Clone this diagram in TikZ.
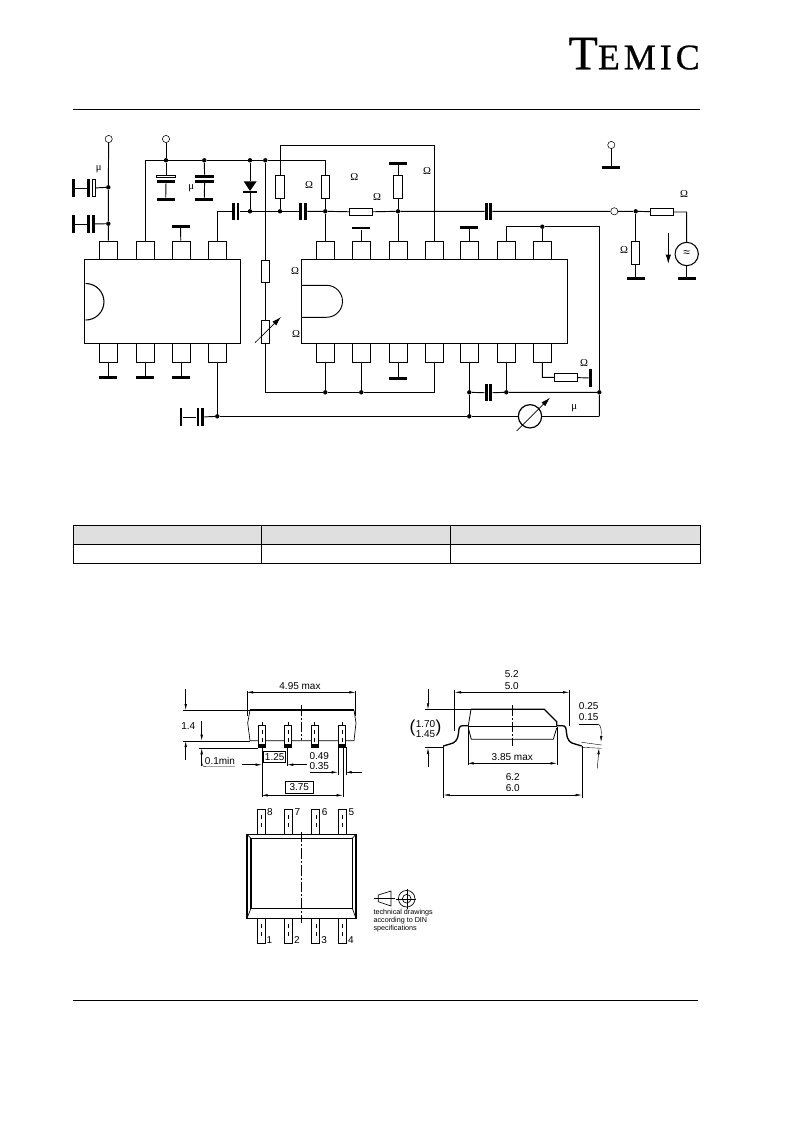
\documentclass[tikz,border=0pt]{standalone}
\usepackage{fontspec}
\setmainfont{Liberation Sans}
\newfontfamily\symfont{Liberation Serif}
\newfontfamily\logofont[LetterSpace=11,FakeBold=0.6]{Liberation Serif}
\usetikzlibrary{arrows.meta}
\tikzset{
	wire/.style={line width=.7pt},
	pinbox/.style={draw,line width=.7pt,inner sep=0,minimum width=13.5pt,minimum height=14pt},
	icbox/.style={draw,line width=.75pt,inner sep=0,anchor=north west},
	resv/.style={draw,line width=.7pt,inner sep=0,fill=white,minimum width=6.2pt,minimum height=17pt},
	resh/.style={draw,line width=.7pt,inner sep=0,fill=white,minimum width=17.5pt,minimum height=5.6pt},
	gndh/.style={fill=black,inner sep=0,minimum width=13.5pt,minimum height=2pt},
	gndv/.style={fill=black,inner sep=0,minimum width=2pt,minimum height=13.5pt},
	plateh/.style={fill=black,inner sep=0,minimum width=14pt,minimum height=2pt},
	platev/.style={fill=black,inner sep=0,minimum width=2pt,minimum height=13pt},
	dot/.style={circle,fill=black,inner sep=0,minimum size=3.3pt},
	term/.style={circle,draw,fill=white,line width=.4pt,inner sep=0,minimum size=5.4pt},
	roundel/.style={circle,draw,line width=.8pt,inner sep=0,minimum size=17.5pt},
	ohm/.style={inner sep=0,font=\symfont\fontsize{8}{8}\selectfont},
	dimtxt/.style={inner sep=0,font=\fontsize{7.5}{8}\selectfont},
	dimline/.style={line width=.35pt,{Latex[length=4.5pt,width=1.9pt]}-{Latex[length=4.5pt,width=1.9pt]}},
	dimend/.style={line width=.35pt,-{Latex[length=4.5pt,width=1.9pt]}},
	thinl/.style={line width=.3pt},
	tagbox/.style={draw,line width=.7pt,inner sep=0,minimum height=8.6pt,font=\fontsize{7.5}{8}\selectfont},
	bigarrow/.style={line width=.5pt,-{Latex[length=7pt,width=4pt]}},
	x=.75pt,y=-.75pt
}
\begin{document}
\begin{tikzpicture}
	\useasboundingbox (0,0) rectangle (793,1123);
	\node[anchor=base east,inner sep=0,font=\logofont] (logo) at (700,69.3) {\fontsize{36}{36}\selectfont T\fontsize{27}{27}\selectfont EMIC};
	\coordinate (headl) at (73,109.3);
	\coordinate (headr) at (700,109.3);
	\draw[line width=.7pt] (headl) -- (headr);
	\node[icbox,minimum width=117pt,minimum height=63pt] (icl) at (84.3,259.3) {};
	\node[icbox,minimum width=199pt,minimum height=63pt] (icr) at (301.3,259.3) {};
	\foreach \n/\x in {1/108.3,2/145.3,3/181,4/217.3} {
		\node[pinbox] (lt\n) at (\x,250.3) {};
		\node[pinbox] (lb\n) at (\x,352.8) {};
	}
	\foreach \n/\x in {1/325.3,2/361.3,3/398,4/434.3,5/469.3,6/506.3,7/542.3} {
		\node[pinbox] (rt\n) at (\x,250.3) {};
		\node[pinbox] (rb\n) at (\x,352.8) {};
	}
	\draw[line width=.8pt] (85.7,283.5) arc[start angle=90,end angle=-90,radius=13.7pt];
	\draw[wire] (301.3,285.3) -- (326.5,285.3) arc[start angle=90,end angle=-90,radius=12pt] -- (301.3,317.3);
	\node[term] (vs1) at (108.7,139) {};
	\node[term] (vs2) at (166,139) {};
	\node[term] (vs3) at (611.3,145) {};
	\node[term] (vs4) at (614.3,211.3) {};
	\foreach \n/\x/\y in {t1/108.3/187.3,t2/108.3/223.7,v1/166/160.3,v2/204.3/160.3,v3/250/160.3,v4/265.3/160.3,m1/250/211.3,m2/280/211.3,m3/325.3/211.3,m4/398/211.3,o1/635.7/211.3,c1/542.3/226.7,b1/325.3/392.3,b2/361.3/392.3,b3/469.3/392.3,b4/506.3/392.3,b5/599.3/392.3,l1/469.3/416.3,l2/217.3/416.3}
		\node[dot] (j\n) at (\x,\y) {};
	\node[gndv] (g1) at (73.3,188) {};
	\node[gndv] (g2) at (73.3,224) {};
	\node[gndv] (g3) at (181,417) {};
	\node[gndv] (g4) at (590.3,378) {};
	\foreach \n/\x/\y in {5/165.7/199.3,6/204.3/199.3,7/180.5/226.3,8/108.3/377.3,9/145.3/377.3,10/181/377.3,11/398/163.3,12/361.3/228,13/469.3/227.7,14/398/378.3,15/611.3/167.3,16/635.7/278.3,17/686.7/278.7}
		\node[gndh] (g\n) at (\x,\y) {};
	\node[platev] (ca1) at (88.2,188) {};
	\node[draw,fill=white,line width=.5pt,inner sep=0,minimum width=2pt,minimum height=13pt] (cb1) at (93.5,188) {};
	\node[platev] (ca2) at (88.5,224) {};
	\node[platev] (cb2) at (93.5,224) {};
	\node[draw,fill=white,line width=.5pt,inner sep=0,minimum width=14pt,minimum height=2pt] (ca3) at (166,176.4) {};
	\node[plateh] (cb3) at (166,181.8) {};
	\node[plateh] (ca4) at (204.6,176.3) {};
	\node[plateh] (cb4) at (204.6,181.3) {};
	\node[platev] (ca5) at (233.4,211.3) {};
	\node[platev] (cb5) at (237.9,211.3) {};
	\node[platev] (ca6) at (300.7,211.3) {};
	\node[platev] (cb6) at (305.7,211.3) {};
	\node[platev] (ca7) at (486.2,211.3) {};
	\node[platev] (cb7) at (490.8,211.3) {};
	\node[platev] (ca8) at (486.2,392.8) {};
	\node[platev] (cb8) at (490.8,392.8) {};
	\node[platev] (ca9) at (198,417) {};
	\node[platev] (cb9) at (202.7,417) {};
	\node[resv] (r1) at (280,187.3) {};
	\node[resv] (r2) at (325.3,187.3) {};
	\node[resv] (r3) at (398,187.3) {};
	\node[resh] (r4) at (361,212) {};
	\node[resh] (r5) at (662,212) {};
	\node[resv] (r6) at (635.7,252.8) {};
	\node[resv] (r7) at (265.3,271.3) {};
	\node[resv] (r8) at (265.3,332) {};
	\node[resh] (r9) at (566,377.3) {};
	\node[roundel,font=\fontsize{9}{9}\selectfont] (src) at (686.7,254) {≈};
	\node[roundel,line width=.9pt] (mtr) at (530,416.3) {};
	\coordinate (dtop) at (250,181.3);
	\coordinate (dbtm) at (250,193);
	\coordinate (topw) at (434.3,145);
	\fill (243.7,181.3) -- (256.7,181.3) -- (250,191) -- cycle;
	\fill (243,191.4) rectangle (257,193.2);
	\draw[wire] (vs1) -- (jt1) -- (jt2) -- (lt1);
	\draw[wire] (g1) -- (ca1);
	\draw[wire] (cb1) -- (jt1);
	\draw[wire] (g2) -- (ca2);
	\draw[wire] (cb2) -- (jt2);
	\draw[wire] (vs2) -- (jv1);
	\draw[wire] (lt2) |- (jv1) -- (jv2) -- (jv3) -- (jv4) -| (r2);
	\draw[wire] (jv1) -- (ca3);
	\draw[wire] (cb3) -- (g5);
	\draw[wire] (jv2) -- (ca4);
	\draw[wire] (cb4) -- (g6);
	\draw[wire] (jv3) -- (dtop);
	\draw[wire] (dbtm) -- (jm1);
	\draw[wire] (g7) -- (lt3);
	\draw[wire] (lt4) |- (ca5);
	\draw[wire] (cb5) -- (jm1) -- (jm2) -- (ca6);
	\draw[wire] (cb6) -- (jm3) -- (r4) -- (jm4) -- (ca7);
	\draw[wire] (cb7) -- (vs4) -- (jo1) -- (r5) -| (src);
	\draw[wire] (jo1) -- (r6) -- (g16);
	\draw[wire] (src) -- (g17);
	\draw[wire] (vs3) -- (g15);
	\draw[wire] (r1) -- (jm2);
	\draw[wire] (r1) |- (topw) -- (rt4);
	\draw[wire] (r2) -- (jm3) -- (rt1);
	\draw[wire] (g11) -- (r3) -- (jm4) -- (rt3);
	\draw[wire] (g12) -- (rt2);
	\draw[wire] (g13) -- (rt5);
	\draw[wire] (rt6) |- (jc1);
	\draw[wire] (jc1) -- (rt7);
	\draw[wire] (jc1) -| (jb5);
	\draw[wire] (jv4) -- (r7) -- (r8);
	\draw[wire] (r8) |- (jb1) -- (jb2);
	\draw[wire] (jb2) -| (rb4);
	\draw[wire] (rb1) -- (jb1);
	\draw[wire] (rb2) -- (jb2);
	\draw[wire] (rb3) -- (g14);
	\draw[wire] (rb5) -- (jb3) -- (jl1);
	\draw[wire] (rb6) -- (jb4);
	\draw[wire] (rb7) |- (r9) -- (g4);
	\draw[wire] (jb3) -- (ca8);
	\draw[wire] (cb8) -- (jb4) -- (jb5) -- (jb5 |- mtr);
	\draw[wire] (jb5 |- mtr) -- (mtr);
	\draw[wire] (mtr) -- (jl1) -- (jl2);
	\draw[wire] (jl2) -- (lb4);
	\draw[wire] (jl2) -- (cb9);
	\draw[wire] (ca9) -- (g3);
	\foreach \n in {1,2,3} \draw[wire] (lb\n) -- (g\the\numexpr\n+7\relax);
	\coordinate (vra) at (255,342.7);
	\coordinate (vrb) at (281,317);
	\coordinate (mta) at (516.7,431);
	\coordinate (mtb) at (550,397.7);
	\coordinate (ara) at (668.3,233.3);
	\coordinate (arb) at (668.3,264);
	\draw[bigarrow] (vra) -- (vrb);
	\draw[bigarrow] (mta) -- (mtb);
	\draw[bigarrow,line width=.7pt] (ara) -- (arb);
	\foreach \n/\x/\y in {1/309/185.3,2/295/270.7,3/296/334.3,4/354.3/176.7,5/377/197.3,6/427/171,7/684/194.3,8/624/250.3,9/584/363}
		\node[ohm] (om\n) at (\x,\y) {Ω};
	\foreach \n/\x/\y in {1/98.7/169.3,2/191.3/188.3,3/574.3/408}
		\node[ohm] (mu\n) at (\x,\y) {μ};
	\fill[gray!25] (73,525) rectangle (700,544);
	\draw[line width=.6pt] (73,525) rectangle (700,563);
	\draw[line width=.6pt] (73,544) -- (700,544);
	\draw[line width=.6pt] (261,525) -- (261,563);
	\draw[line width=.6pt] (450,525) -- (450,563);
	% front view
	\draw[line width=.5pt] (250,710) -- (247.7,723) -- (250,740.7) -- (354,740.7) -- (356,723) -- (354,710);
	\draw[line width=1.2pt] (250,710) -- (354,710);
	\foreach \x in {258.3,284.3,311,338.3} {
		\draw[wire,fill=white] (\x,725) rectangle ++(7,22.3);
		\fill (\x,743.5) rectangle ++(7,3.8);
		\draw[thinl,dashed] (\x+3.5,722) -- (\x+3.5,742);
	}
	\draw[thinl,dash pattern=on 8pt off 1.5pt on 1.5pt off 1.5pt] (300.7,705) -- (300.7,740);
	\draw[dimline] (247,692.3) -- (355.3,692.3);
	\draw[thinl] (247,690.7) -- (247,716);
	\draw[thinl] (355.3,690.7) -- (355.3,716);
	\node[dimtxt] (t495) at (300,685.7) {4.95 max};
	\draw[thinl] (183,710.3) -- (250,710.3);
	\draw[thinl] (183,740.7) -- (250,740.7);
	\draw[thinl] (199,748) -- (258,748);
	\draw[dimend] (185.7,689) -- (185.7,710);
	\draw[dimend] (185.7,760) -- (185.7,741);
	\node[dimtxt] (t14) at (188.3,726) {1.4};
	\draw[dimend] (201.7,721) -- (201.7,740.7);
	\draw[dimend,line width=.35pt] (201.7,766) -- (201.7,748.3);
	\draw[thinl] (201.7,760) .. controls (201.7,765) and (202.5,766.7) .. (206,766.7) -- (235,766.7);
	\node[dimtxt] (t01) at (220,761) {0.1min};
	\node[tagbox,minimum width=16.5pt] (t125) at (274.7,757.2) {1.25};
	\node[tagbox,minimum width=21.5pt] (t375) at (299.3,787.3) {3.75};
	\draw[dimend] (241.7,764.7) -- (261.7,764.7);
	\draw[dimend] (306.7,764.7) -- (287.3,764.7);
	\draw[thinl] (261.7,747) -- (261.7,797);
	\draw[thinl] (287.3,747) -- (287.3,766);
	\draw[thinl] (342.7,747) -- (342.7,797);
	\draw[dimline] (261.7,795.3) -- (342.7,795.3);
	\node[dimtxt] (t049) at (319.3,756) {0.49};
	\node[dimtxt] (t035) at (319.3,766) {0.35};
	\draw[dimend] (310,772.3) -- (337.7,772.3);
	\draw[dimend] (361.7,772.3) -- (345.7,772.3);
	\draw[thinl] (337.7,747) -- (337.7,775);
	\draw[thinl] (345.7,747) -- (345.7,775);
	% side view
	\draw[line width=.9pt] (471,709.3) -- (544.3,709.3) -- (556.7,721.7) -- (556.7,725.7);
	\draw[line width=.6pt] (471,709.3) -- (468.3,725.7);
	\draw[line width=.6pt] (468.3,728) -- (471.3,739.3) -- (553.3,739.3) -- (556.7,728);
	\draw[line width=.6pt] (468.3,726) -- (556.7,726);
	\draw[line width=1pt] (468.3,725.7) -- (463,725.7) .. controls (459,725.7) and (459,728) .. (458.5,733) .. controls (458,740) and (455,743) .. (450,744) -- (443.3,746);
	\draw[line width=1pt] (556.7,725.7) -- (562,725.7) .. controls (566,725.7) and (566,728) .. (566.5,733) .. controls (567,740) and (570,743) .. (575,744) -- (581.7,746);
	\draw[thinl,dash pattern=on 8pt off 1.5pt on 1.5pt off 1.5pt] (512.3,705) -- (512.3,746);
	\node[dimtxt] (t52) at (511.7,674) {5.2};
	\node[dimtxt] (t50) at (511.7,685.7) {5.0};
	\draw[dimline] (455,692.3) -- (569,692.3);
	\draw[thinl] (454.3,690) -- (454.3,731);
	\draw[thinl] (569,690) -- (569,726);
	\draw[thinl] (425,709.3) -- (471,709.3);
	\draw[thinl] (425,747.3) -- (443.3,747.3);
	\draw[dimend] (428,689.3) -- (428,709.3);
	\draw[dimend] (428,767.3) -- (428,748);
	\node[dimtxt] (t170) at (425.5,724) {1.70};
	\node[dimtxt] (t145) at (425.5,734.3) {1.45};
	\node[dimtxt,font=\fontsize{13}{13}\selectfont] (plf) at (412.5,728.5) {(};
	\node[dimtxt,font=\fontsize{13}{13}\selectfont] (prt) at (438.5,728.5) {)};
	\node[dimtxt] (t385) at (512.3,756.7) {3.85 max};
	\draw[dimline] (467.7,763.3) -- (556.7,763.3);
	\draw[thinl] (467.7,727) -- (467.7,765);
	\draw[thinl] (556.7,727) -- (556.7,765);
	\node[dimtxt] (t62) at (512.7,776.7) {6.2};
	\node[dimtxt] (t60) at (512.7,787.7) {6.0};
	\draw[dimline] (443.7,795) -- (581.7,795);
	\draw[thinl] (443.3,746) -- (443.3,798);
	\draw[thinl] (581.7,746) -- (581.7,798);
	\node[dimtxt] (t025) at (588.7,705.7) {0.25};
	\node[dimtxt] (t015) at (588.7,717.3) {0.15};
	\draw[thinl] (579,724) -- (598,724);
	\draw[dimend] (598,724) .. controls (601,725) and (601.5,730) .. (601,742);
	\draw[dimend] (597.3,768.3) -- (599,748.3);
	\draw[thinl] (581.7,742.3) -- (601.7,745);
	\draw[thinl] (581.7,747.3) -- (601.7,748.3);
	% top view
	\draw[line width=1.1pt] (247,834.3) rectangle (356,918.3);
	\draw[line width=.9pt] (251,838.3) rectangle (352.3,908.3);
	\draw[line width=.5pt] (247,834.3) -- (251,838.3);
	\draw[line width=.5pt] (356,834.3) -- (352.3,838.3);
	\draw[line width=.5pt] (247,918.3) -- (251,908.3);
	\draw[line width=.5pt] (356,918.3) -- (352.3,908.3);
	\foreach \x/\ta/\tb in {257/8/1,284.3/7/2,311.7/6/3,338.3/5/4} {
		\draw[line width=.7pt] (\x,809.3) rectangle ++(8,25);
		\draw[line width=.7pt] (\x,918.3) rectangle ++(8,25);
		\draw[thinl,dashed] (\x+4,815) -- (\x+4,830);
		\draw[thinl,dashed] (\x+4,924) -- (\x+4,938);
		\node[dimtxt] at (\x+13,812.5) {\ta};
		\node[dimtxt] at (\x+12.5,940) {\tb};
	}
	\draw[thinl,dash pattern=on 8pt off 1.5pt on 1.5pt off 1.5pt] (300.7,831.7) -- (300.7,922.7);
	% projection symbol
	\draw[line width=.5pt] (378.3,895) -- (378.3,901.7) -- (391,906) -- (391,891) -- cycle;
	\draw[thinl] (374,898.5) -- (395,898.5);
	\draw[line width=.5pt] (406.7,898.7) circle[radius=8.3];
	\draw[line width=.5pt] (406.7,898.7) circle[radius=4.3];
	\draw[thinl] (396,898.7) -- (416,898.7);
	\draw[thinl] (406.7,889) -- (406.7,908.5);
	\node[anchor=north west,inner sep=0,align=left,font=\fontsize{5.4}{5.9}\selectfont] (dinnote) at (373.3,909.5) {technical drawings\\according to DIN\\specifications};
	\coordinate (footl) at (73,1000);
	\coordinate (footr) at (698,1000);
	\draw[line width=.7pt] (footl) -- (footr);
\end{tikzpicture}
\end{document}
